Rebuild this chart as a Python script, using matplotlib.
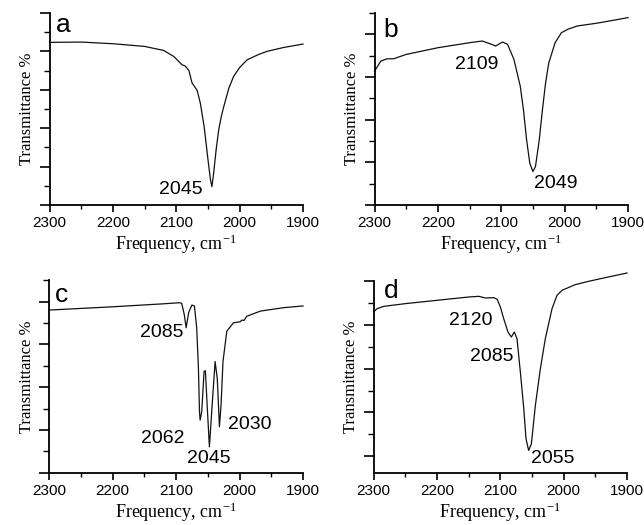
import matplotlib
matplotlib.use("Agg")
import matplotlib.pyplot as plt
from matplotlib.ticker import MultipleLocator

plt.rcParams['mathtext.default'] = 'regular'
plt.rcParams['axes.unicode_minus'] = False

# ---- data (frequency in cm^-1, transmittance in arbitrary tick units) ----
freq_a = [2300, 2250, 2200, 2150, 2120, 2104, 2095, 2091, 2086, 2080, 2075, 2070, 2067,
          2062, 2056, 2050.5, 2046, 2043.7, 2041, 2037, 2033, 2029, 2025, 2017, 2009.5,
          2000, 1988, 1970, 1957, 1930, 1900]
trans_a = [4.235, 4.243, 4.20, 4.13, 4.026, 3.87, 3.72, 3.652, 3.62, 3.50, 3.174, 3.06, 2.983,
           2.652, 2.043, 1.26, 0.652, 0.478, 0.826, 1.45, 1.957, 2.30, 2.565, 3.043, 3.348,
           3.58, 3.783, 3.92, 4.0, 4.104, 4.191]

freq_b = [2300, 2290, 2280, 2270, 2250, 2200, 2150, 2130, 2115, 2109, 2098, 2090, 2080,
          2070, 2065, 2060, 2055, 2050, 2046, 2040, 2035, 2030, 2025, 2015, 2005, 1995,
          1980, 1950, 1920, 1900]
trans_b = [3.137, 3.373, 3.427, 3.427, 3.529, 3.686, 3.804, 3.843, 3.765, 3.725, 3.82, 3.765, 3.412,
           2.784, 2.235, 1.529, 0.98, 0.784, 0.902, 1.529, 2.235, 2.863, 3.333, 3.804, 4.039, 4.118,
           4.196, 4.259, 4.337, 4.392]

freq_c = [2300, 2200, 2120, 2094, 2091, 2087, 2084, 2080, 2075, 2071, 2067.4, 2064.7, 2063,
          2062, 2059.5, 2055.8, 2053.7, 2051, 2047.4, 2043, 2038.4, 2035, 2031.6, 2029, 2026,
          2020, 2009.5, 1999, 1996.3, 1993, 1988.4, 1967, 1930.5, 1900]
trans_c = [3.804, 3.88, 3.95, 3.976, 3.96, 3.70, 3.388, 3.75, 3.92, 3.90, 3.39, 2.447, 1.427,
           1.23, 1.427, 2.37, 2.384, 1.60, 0.604, 1.60, 2.60, 2.20, 1.075, 1.60, 2.60,
           3.31, 3.506, 3.53, 3.57, 3.56, 3.66, 3.78, 3.86, 3.90]

freq_d = [2300, 2294.7, 2284, 2250, 2200, 2150, 2134, 2123.7, 2110.5, 2105, 2100, 2094.7,
          2088, 2082.6, 2077.9, 2073.7, 2068.4, 2063, 2059.5, 2055.3, 2051, 2044.7, 2036.8,
          2029, 2018.4, 2010.5, 2002.6, 1981.6, 1960.5, 1929, 1900]
trans_d = [3.30, 3.374, 3.427, 3.489, 3.565, 3.641, 3.656, 3.618, 3.626, 3.588, 3.412, 3.145,
           2.84, 2.725, 2.84, 2.687, 1.924, 1.084, 0.397, 0.13, 0.28, 1.16, 2.0,
           2.687, 3.374, 3.68, 3.794, 3.924, 4.0, 4.1, 4.19]

panels = ['a', 'b', 'c', 'd']
freqs = [freq_a, freq_b, freq_c, freq_d]
trans = [trans_a, trans_b, trans_c, trans_d]

# peak labels: (text, x, y)
labels_a = [('2045', 2092.6, 0.41)]
labels_b = [('2109', 2138, 3.29), ('2049', 2014.6, 0.51)]
labels_c = [('2085', 2122.6, 3.29), ('2062', 2121.6, 0.80), ('2045', 2049, 0.33), ('2030', 1984, 1.13)]
labels_d = [('2120', 2146.3, 3.10), ('2085', 2113.7, 2.27), ('2055', 2017.4, -0.06)]
peak_labels = [labels_a, labels_b, labels_c, labels_d]

# ---- layout (style) ----
W, H = 644, 525
boxes = [(49.5, 303, 13, 205), (374.5, 628, 13, 205),
         (49, 303, 280.3, 472.7), (373.7, 627, 281.3, 472.7)]
ylims = [(0, 5), (0, 4.5), (0, 4.5), (-0.38, 4.0)]
letter_pos = [(0.026, 0.901), (0.036, 0.873), (0.024, 0.887), (0.040, 0.913)]

SANS = 'Liberation Sans'
SERIF = 'Liberation Serif'

fig = plt.figure(figsize=(W / 100, H / 100), dpi=100)
for i in range(4):
    l, r, t, b = boxes[i]
    ax = fig.add_axes([l / W, (H - b) / H, (r - l) / W, (b - t) / H])
    ax.plot(freqs[i], trans[i], color='#111111', lw=0.9, clip_on=False)
    ax.set_xlim(2300, 1900)
    ax.set_ylim(*ylims[i])
    for s in ['top', 'right']:
        ax.spines[s].set_visible(False)
    for s in ['left', 'bottom']:
        ax.spines[s].set_linewidth(1.3)
    ax.xaxis.set_major_locator(MultipleLocator(100))
    ax.xaxis.set_minor_locator(MultipleLocator(50))
    ax.yaxis.set_major_locator(MultipleLocator(1))
    ax.yaxis.set_minor_locator(MultipleLocator(0.5))
    ax.tick_params(axis='y', which='major', direction='out', length=7, width=1.2, labelleft=False)
    ax.tick_params(axis='y', which='minor', direction='out', length=4, width=1.0)
    ax.tick_params(axis='x', which='major', direction='out', length=5, width=1.2, pad=3)
    ax.tick_params(axis='x', which='minor', direction='out', length=3, width=1.0)
    for lab in ax.get_xticklabels():
        lab.set_fontfamily(SANS)
        lab.set_fontsize(11)
    ax.set_xlabel('Frequency, cm$^{-1}$', fontfamily=SERIF, fontsize=13, labelpad=2)
    ax.set_ylabel('Transmittance %', fontfamily=SERIF, fontsize=12, labelpad=3)
    ax.text(letter_pos[i][0], letter_pos[i][1], panels[i], transform=ax.transAxes,
            fontfamily=SANS, fontsize=19, ha='left', va='baseline')
    for txt, x, y in peak_labels[i]:
        ax.text(x, y, txt, fontfamily=SANS, fontsize=14, ha='center', va='center')

fig.savefig('out.png', dpi=100)
